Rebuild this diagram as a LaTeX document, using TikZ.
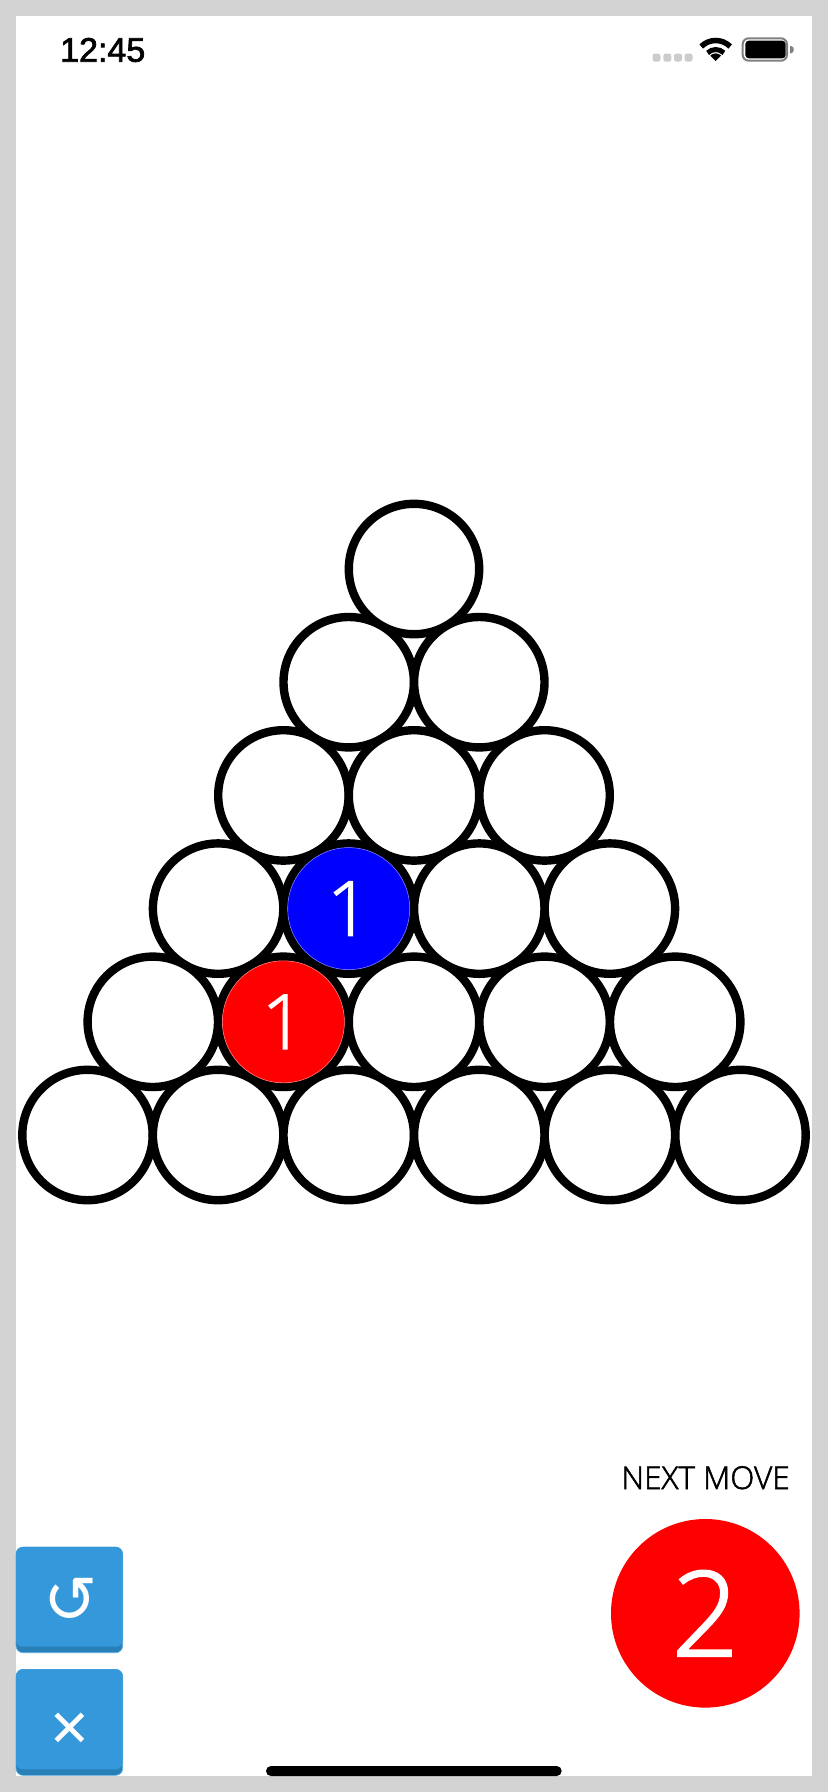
\documentclass[tikz,border=0pt]{standalone}
\usepackage{fontspec}
\setmainfont{Liberation Sans}
\newfontfamily\clockf[RawFeature={embolden=2}]{Liberation Sans}
\newfontfamily\thinf[RawFeature={embolden=1.8}]{Open Sans Light}
\newfontfamily\symf{DejaVu Sans}
\definecolor{frame}{HTML}{D3D3D3}
\definecolor{btn}{HTML}{3498DB}
\definecolor{btnd}{HTML}{2980B9}
\definecolor{pale}{HTML}{5DADE2}
\tikzset{
  disc/.style={circle,draw=black,fill=white,line width=8.4pt,minimum size=130.4pt,inner sep=0pt},
  token/.style={circle,fill=#1,draw=#1!55!white,line width=.6pt,minimum size=122pt,inner sep=0pt,text=white,font=\thinf\fontsize{76}{76}\selectfont},
  sigdot/.style={fill=black!20,rounded corners=2.5pt},
  wave/.style={line width=#1,black},
  btnface/.style={fill=btn,rounded corners=7pt},
  btnbase/.style={fill=btnd,draw=pale,line width=.6pt,rounded corners=7pt},
  btnicon/.style={text=white,inner sep=0pt}
}
\begin{document}
\begin{tikzpicture}[x=1pt,y=-1pt]
\useasboundingbox (0,0) rectangle (828,1792);
\fill[frame] (0,0) rectangle (828,1792);
\fill[white] (16,16) rectangle (812,1776);
% status bar
\node[anchor=base west,inner sep=0pt,font=\clockf\fontsize{34}{34}\selectfont] (clock) at (60,61.7) {12:45};
\foreach \x in {656.5,667.3,678,688.5}
  \fill[sigdot] (\x-4,53.5) rectangle (\x+4,61.7);
\draw[wave=5.5pt] (701.2,46.5) arc[start angle=-135,end angle=-45,radius=20.5];
\draw[wave=5pt] (707.6,52.9) arc[start angle=-135,end angle=-45,radius=11.5];
\fill[black] (715.7,61) -- (710.3,55.6) arc[start angle=-135,end angle=-45,radius=7.6] -- cycle;
\draw[draw=black!50,line width=2pt,rounded corners=6pt] (742.7,38.3) rectangle (787,60.7);
\fill[black,rounded corners=3.5pt] (745.3,40.7) rectangle (785.7,58.3);
\fill[black!50] (790,46) -- (791,46) to[out=0,in=0,looseness=1.3] (791,53.3) -- (790,53.3) -- cycle;
% triangle of discs
\foreach \r in {0,...,5}{
  \foreach \i in {0,...,\r}{
    \pgfmathsetmacro{\cx}{414+(\i-\r/2)*130.6}
    \pgfmathsetmacro{\cy}{569+\r*113.2}
    \node[disc] (c\r\i) at (\cx,\cy) {};
  }
}
\node[token=blue] (bluetoken) at (c31) {1};
\node[token=red] (redtoken) at (c41) {1};
% next move
\node[anchor=base,inner sep=0pt,font=\thinf\fontsize{31.5}{32}\selectfont] (nextlabel) at (705.5,1489) {NEXT MOVE};
\node[circle,fill=red,minimum size=188.6pt,inner sep=0pt,text=white,font=\thinf\fontsize{118}{118}\selectfont] (nextdisc) at (705.3,1613.3) {2};
% buttons
\draw[btnbase] (16,1547) rectangle (122.7,1652.7);
\fill[btnface] (16,1547) rectangle (122.7,1646.7);
\node[btnicon,font=\symf\fontsize{65}{65}\selectfont] (undoicon) at (70.7,1600.5) {↺};
\draw[btnbase] (16,1669.3) rectangle (122.7,1775.3);
\fill[btnface] (16,1669.3) rectangle (122.7,1769.3);
\node[btnicon,font=\symf\fontsize{51}{51}\selectfont] (closeicon) at (70.2,1729.5) {✕};
% home indicator
\fill[black,rounded corners=5pt] (266,1766) rectangle (561.7,1776);
\end{tikzpicture}
\end{document}
